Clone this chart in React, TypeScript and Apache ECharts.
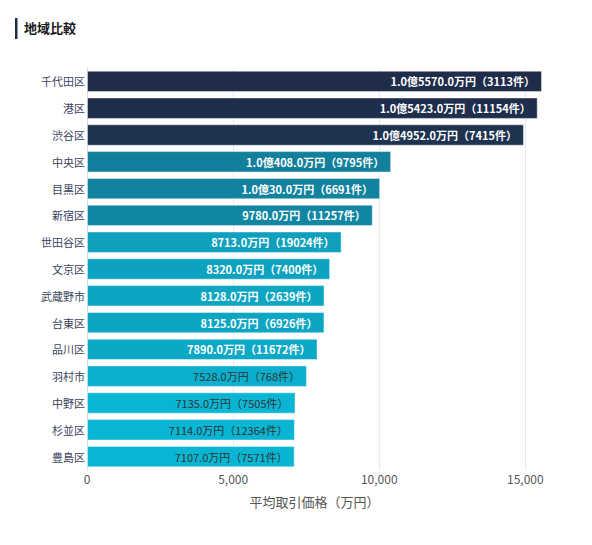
import * as echarts from "echarts";
import { useEffect, useRef } from "react";

// 地域ごとの平均取引価格（万円）と件数
const areas = [
    "千代田区", "港区", "渋谷区", "中央区", "目黒区", "新宿区", "世田谷区", "文京区",
    "武蔵野市", "台東区", "品川区", "羽村市", "中野区", "杉並区", "豊島区",
];
const prices = [15570, 15423, 14952, 10408, 10030, 9780, 8713, 8320, 8128, 8125, 7890, 7528, 7135, 7114, 7107];
const counts = [3113, 11154, 7415, 9795, 6691, 11257, 19024, 7400, 2639, 6926, 11672, 768, 7505, 12364, 7571];
const barColors = [
    "#1f2d4a", "#1f2e4c", "#1e3350", "#12809c", "#12839f", "#1186a2", "#0ea0bd", "#0da3c0",
    "#0ca5c2", "#0ca5c2", "#0ba9c6", "#0aafcd", "#08b6d4", "#08b6d4", "#08b6d4",
];
const xTicks = [0, 5000, 10000, 15000];

const FONT = "'Noto Sans CJK JP', 'Noto Sans', sans-serif";

const formatPrice = (v: number) => {
    if (v >= 10000) {
        return `${Math.floor(v / 10000).toFixed(1)}億${(v % 10000).toFixed(1)}万円`;
    }
    return `${v.toFixed(1)}万円`;
};

const App: React.FC = () => {
    const chartRef = useRef<HTMLDivElement>(null);

    useEffect(() => {
        const chart = echarts.init(chartRef.current!, undefined, { renderer: "svg" });

        const option = {
            animation: false,
            textStyle: { fontFamily: FONT },
            graphic: [
                {
                    type: "rect",
                    left: 7,
                    top: 10,
                    shape: { width: 2.5, height: 21 },
                    style: { fill: "#1f2d4a" },
                },
                {
                    type: "text",
                    left: 16,
                    top: 13,
                    style: {
                        text: "地域比較",
                        fontFamily: FONT,
                        fontSize: 13,
                        fontWeight: "bold",
                        fill: "#1a1a1a",
                    },
                },
            ],
            grid: { left: 79, right: 42, top: 60, bottom: 67, containLabel: false },
            xAxis: {
                type: "value",
                min: 0,
                max: Math.max(...prices),
                interval: 5000,
                name: "平均取引価格（万円）",
                nameLocation: "middle",
                nameGap: 25,
                nameTextStyle: { color: "#555", fontSize: 13, fontFamily: FONT },
                axisLine: { show: false },
                axisTick: { show: false },
                axisLabel: {
                    color: "#555",
                    fontSize: 12,
                    margin: 2,
                    showMaxLabel: false,
                    formatter: (v: number) => (xTicks.includes(v) ? v.toLocaleString("en-US") : ""),
                },
                splitLine: { show: true, showMaxLine: false, lineStyle: { color: "#e6e9f5" } },
            },
            yAxis: {
                type: "category",
                data: areas,
                inverse: true,
                axisLine: { show: true, lineStyle: { color: "#d5dcea" } },
                axisTick: { show: false },
                axisLabel: { color: "#3b4560", fontSize: 11, margin: 2 },
            },
            series: [
                {
                    type: "bar",
                    barCategoryGap: "20%",
                    data: prices.map((v, i) => ({
                        value: v,
                        itemStyle: {
                            color: barColors[i],
                            borderColor: "rgba(255,255,255,0.45)",
                            borderWidth: 1,
                        },
                        label: i >= 11
                            ? { color: "#333", fontWeight: "normal" }
                            : { color: "#fff", fontWeight: "bold" },
                    })),
                    label: {
                        show: true,
                        position: "insideRight",
                        distance: 7,
                        fontSize: 11,
                        fontFamily: FONT,
                        formatter: (p: any) => `${formatPrice(p.value)}（${counts[p.dataIndex]}件）`,
                    },
                },
            ],
        };

        chart.setOption(option);

        return () => {
            chart.dispose();
        };
    }, []);

    return (
        <div
            ref={chartRef}
            style={{
                width: "576px",
                height: "529px",
            }}
        />
    );
};

export default App;
